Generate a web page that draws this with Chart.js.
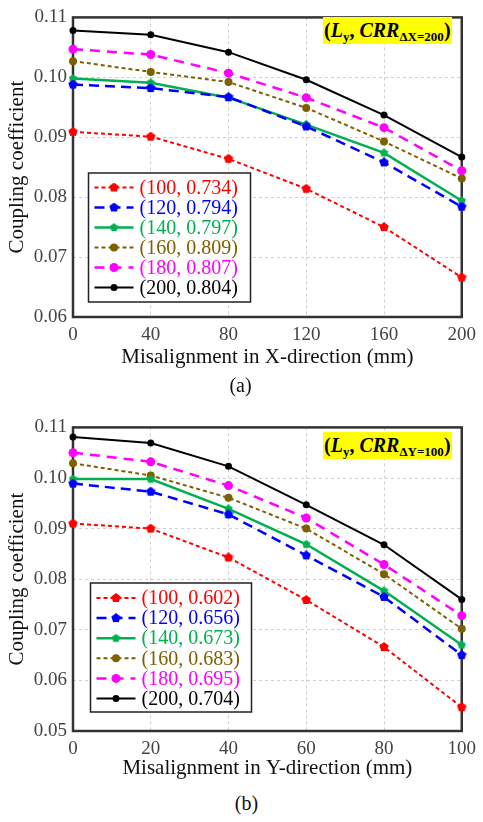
<!DOCTYPE html>
<html>
<head>
<meta charset="utf-8">
<script src="https://cdn.jsdelivr.net/npm/chart.js@4.4.0/dist/chart.umd.min.js"></script>
<style>
html,body{margin:0;padding:0;background:#fff;}
#wrap{position:relative;width:483px;height:822px;overflow:hidden;font-family:"Liberation Serif","Times New Roman",serif;}
canvas{position:absolute;left:0;}
.tag{position:absolute;background:#ffff00;font-weight:bold;font-size:20px;height:27px;line-height:27px;padding:0 1px;white-space:nowrap;color:#000;}
.tag i{font-style:italic;}
.tag .sub{font-size:13px;position:relative;top:4px;font-style:normal;}
.cap{position:absolute;width:483px;text-align:center;font-size:20px;line-height:24px;color:#111;}
</style>
</head>
<body>
<div id="wrap">
  <canvas id="c1" width="483" height="377" style="top:0px"></canvas>
  <canvas id="c2" width="483" height="381" style="top:410px"></canvas>
  <div class="tag" style="left:323px;top:17px">(<i>L</i><span class="sub">y</span>, <i>CRR</i><span class="sub">ΔX=200</span>)</div>
  <div class="tag" style="left:323px;top:432px">(<i>L</i><span class="sub">y</span>, <i>CRR</i><span class="sub">ΔY=100</span>)</div>
  <div class="cap" style="left:-1px;top:373px">(a)</div>
  <div class="cap" style="left:5px;top:791px">(b)</div>
</div>
<script>
// ---------- data ----------
const xValuesA = [0, 40, 80, 120, 160, 200];
const xValuesB = [0, 20, 40, 60, 80, 100];
const yTicksA = [0.06, 0.07, 0.08, 0.09, 0.10, 0.11];
const yTicksB = [0.05, 0.06, 0.07, 0.08, 0.09, 0.10, 0.11];
const labelsA = ['(100, 0.734)', '(120, 0.794)', '(140, 0.797)', '(160, 0.809)', '(180, 0.807)', '(200, 0.804)'];
const labelsB = ['(100, 0.602)', '(120, 0.656)', '(140, 0.673)', '(160, 0.683)', '(180, 0.695)', '(200, 0.704)'];

const a100 = [0.0909, 0.0901, 0.0864, 0.0814, 0.0750, 0.0666];
const a120 = [0.0988, 0.0982, 0.0967, 0.0918, 0.0858, 0.0784];
const a140 = [0.0998, 0.0991, 0.0966, 0.0921, 0.0874, 0.0794];
const a160 = [0.1027, 0.1009, 0.0992, 0.0949, 0.0893, 0.0831];
const a180 = [0.1047, 0.1038, 0.1007, 0.0966, 0.0916, 0.0844];
const a200 = [0.1078, 0.1071, 0.1042, 0.0996, 0.0937, 0.0867];

const b100 = [0.0910, 0.0900, 0.0843, 0.0759, 0.0666, 0.0547];
const b120 = [0.0989, 0.0973, 0.0928, 0.0847, 0.0765, 0.0650];
const b140 = [0.0998, 0.0998, 0.0939, 0.0869, 0.0777, 0.0670];
const b160 = [0.1029, 0.1005, 0.0961, 0.0900, 0.0810, 0.0702];
const b180 = [0.1050, 0.1032, 0.0985, 0.0921, 0.0829, 0.0728];
const b200 = [0.1081, 0.1069, 0.1023, 0.0947, 0.0868, 0.0760];

// ---------- styles ----------
const FONT = '"Liberation Serif","Times New Roman",serif';
function makeStar(color, size) {
  const c = document.createElement('canvas');
  c.width = c.height = size;
  const g = c.getContext('2d');
  g.fillStyle = color;
  g.beginPath();
  const cx = size / 2, cy = size / 2, R = size / 2, r = R * 0.78;
  for (let i = 0; i < 10; i++) {
    const ang = -Math.PI / 2 + i * Math.PI / 5;
    const rr = i % 2 ? r : R;
    g.lineTo(cx + rr * Math.cos(ang), cy + rr * Math.sin(ang));
  }
  g.closePath();
  g.fill();
  return c;
}
const styles = [
  {color: '#ff0000', dash: [4, 3], width: 2, point: makeStar('#ff0000', 10), radius: 5},
  {color: '#0000ff', dash: [10, 6], width: 2.5, point: makeStar('#0000ff', 10), radius: 5},
  {color: '#00b050', dash: [], width: 2.5, point: makeStar('#00b050', 9), radius: 4.5},
  {color: '#7f6000', dash: [4, 3], width: 2, point: 'circle', radius: 4},
  {color: '#ff00ff', dash: [10, 7], width: 2.5, point: 'circle', radius: 4.5},
  {color: '#000000', dash: [], width: 2, point: 'circle', radius: 3.5}
];

function buildDatasets(xs, series, labels) {
  return series.map((vals, i) => ({
    label: labels[i],
    data: vals.map((v, j) => ({x: xs[j], y: v})),
    borderColor: styles[i].color,
    backgroundColor: styles[i].color,
    borderWidth: styles[i].width,
    borderDash: styles[i].dash,
    pointStyle: styles[i].point,
    pointRadius: styles[i].radius,
    pointBorderWidth: 0,
    pointBackgroundColor: styles[i].color,
    tension: 0,
    clip: false
  }));
}

const framePlugin = {
  id: 'frame',
  beforeDatasetsDraw(chart) {
    const {ctx, chartArea: a} = chart;
    ctx.save();
    ctx.strokeStyle = '#333';
    ctx.lineWidth = 2.5;
    ctx.strokeRect(a.left, a.top, a.right - a.left, a.bottom - a.top);
    ctx.restore();
  }
};

const boxLegendPlugin = {
  id: 'boxLegend',
  afterDatasetsDraw(chart, args, opts) {
    const {ctx} = chart;
    ctx.save();
    ctx.fillStyle = '#fff';
    ctx.fillRect(opts.x, opts.y, opts.w, opts.h);
    ctx.strokeStyle = '#222';
    ctx.lineWidth = 1.5;
    ctx.strokeRect(opts.x, opts.y, opts.w, opts.h);
    chart.data.datasets.forEach((ds, i) => {
      const y = opts.row0 + i * opts.step;
      const x0 = opts.x + 6, x1 = opts.x + 45, xm = (x0 + x1) / 2;
      ctx.strokeStyle = ds.borderColor;
      ctx.lineWidth = ds.borderWidth;
      ctx.setLineDash(ds.borderDash);
      ctx.beginPath();
      ctx.moveTo(x0, y);
      ctx.lineTo(x1, y);
      ctx.stroke();
      ctx.setLineDash([]);
      if (ds.pointStyle === 'circle') {
        ctx.fillStyle = ds.backgroundColor;
        ctx.beginPath();
        ctx.arc(xm, y, ds.pointRadius, 0, Math.PI * 2);
        ctx.fill();
      } else {
        const im = ds.pointStyle;
        ctx.drawImage(im, xm - im.width / 2, y - im.height / 2);
      }
      ctx.fillStyle = ds.borderColor;
      ctx.font = '20px ' + FONT;
      ctx.textBaseline = 'middle';
      ctx.textAlign = 'left';
      ctx.fillText(ds.label, opts.x + 51, y + 1);
    });
    ctx.restore();
  }
};

function makeChart(id, xs, yTicks, series, labels, xTitle, padTop, titlePad, legendOpts) {
  return new Chart(document.getElementById(id), {
    type: 'line',
    data: {datasets: buildDatasets(xs, series, labels)},
    plugins: [framePlugin, boxLegendPlugin],
    options: {
      responsive: false,
      animation: false,
      layout: {padding: {top: padTop, left: 0, right: 15, bottom: 0}},
      plugins: {legend: {display: false}, tooltip: {enabled: false}, boxLegend: legendOpts},
      scales: {
        x: {
          type: 'linear',
          min: xs[0], max: xs[xs.length - 1],
          afterBuildTicks: s => { s.ticks = xs.map(v => ({value: v})); },
          afterFit: s => { s.height = 60; },
          grid: {color: '#cfcfcf', lineWidth: 1, drawTicks: false},
          border: {display: false, dash: [3, 3]},
          ticks: {font: {family: FONT, size: 19}, color: '#444', padding: 7, maxRotation: 0},
          title: {display: true, text: xTitle, font: {family: FONT, size: 21}, color: '#111', padding: {top: 0, bottom: titlePad}}
        },
        y: {
          min: yTicks[0], max: yTicks[yTicks.length - 1],
          afterBuildTicks: s => { s.ticks = yTicks.map(v => ({value: v})); },
          afterFit: s => { s.width = 73; },
          grid: {color: '#cfcfcf', lineWidth: 1, drawTicks: false},
          border: {display: false, dash: [3, 3]},
          ticks: {font: {family: FONT, size: 19}, color: '#444', padding: 6, callback: v => v.toFixed(2)},
          title: {display: true, text: 'Coupling coefficient', font: {family: FONT, size: 21}, color: '#111', padding: {top: 5, bottom: 0}}
        }
      }
    }
  });
}

makeChart('c1', xValuesA, yTicksA, [a100, a120, a140, a160, a180, a200], labelsA,
  'Misalignment in X-direction (mm)', 7, 7.4,
  {x: 88.5, y: 173, w: 162, h: 129, row0: 187.5, step: 20});
makeChart('c2', xValuesB, yTicksB, [b100, b120, b140, b160, b180, b200], labelsB,
  'Misalignment in Y-direction (mm)', 10, 10.4,
  {x: 90.5, y: 173, w: 161, h: 129, row0: 188, step: 20.1});
</script>
</body>
</html>
